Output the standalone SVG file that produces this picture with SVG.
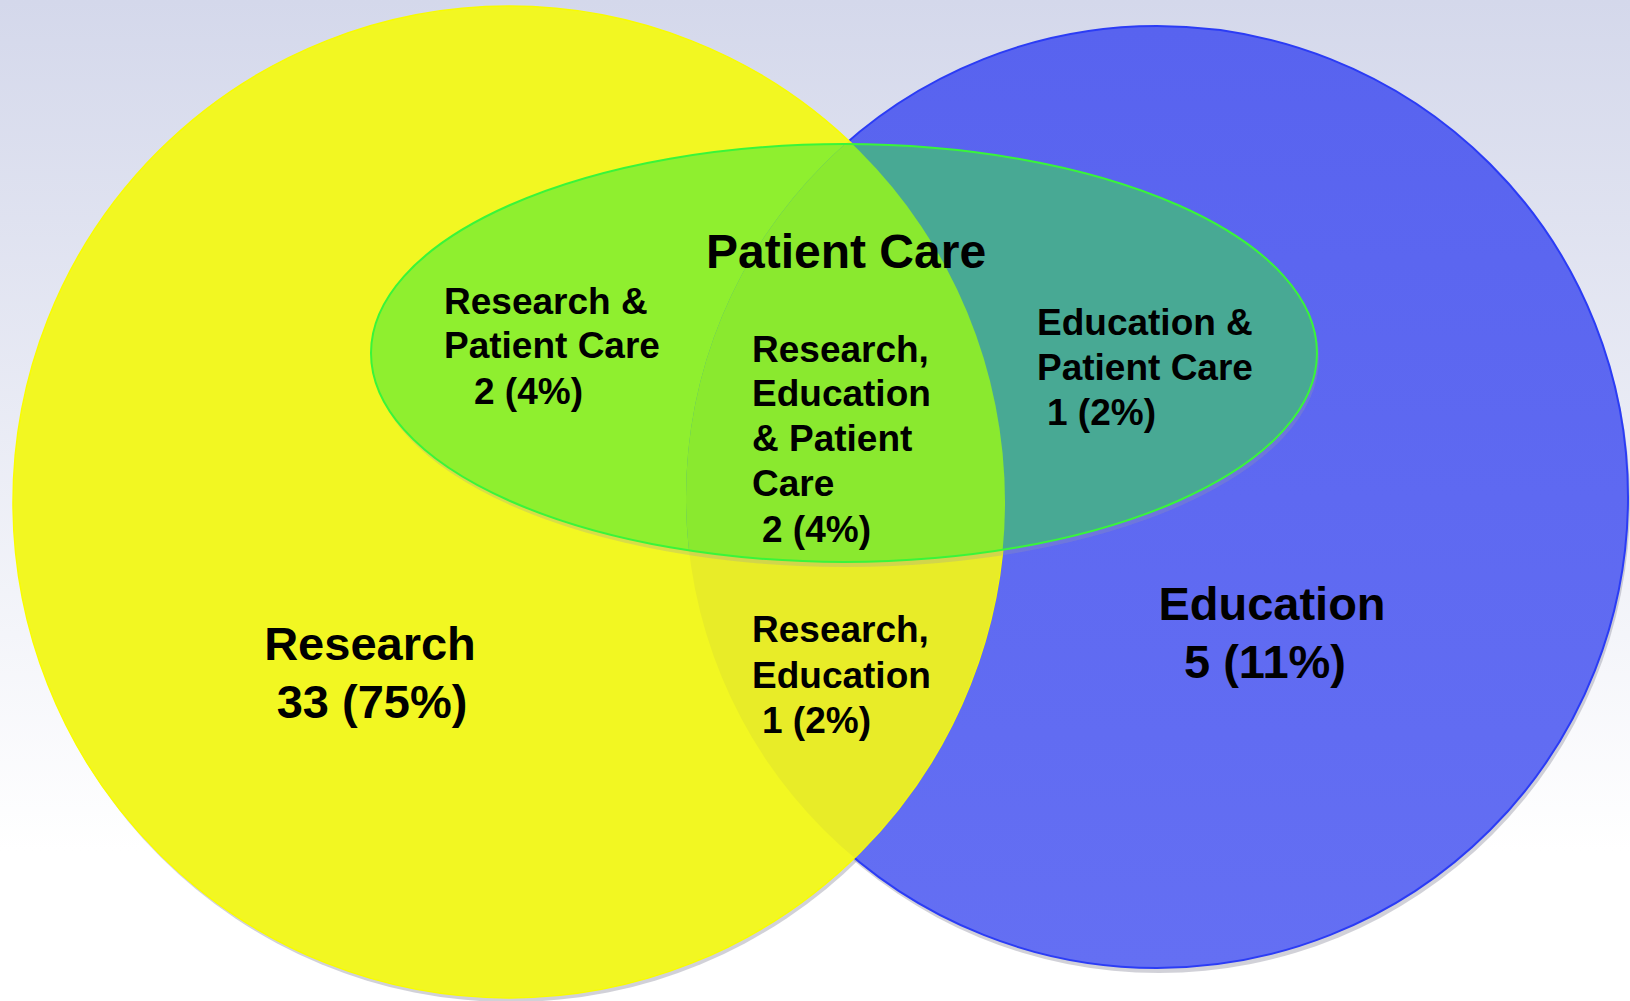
<svg xmlns="http://www.w3.org/2000/svg" width="1630" height="1001" viewBox="0 0 1630 1001">
<defs>
<linearGradient id="bg" x1="0" y1="0" x2="0" y2="1001" gradientUnits="userSpaceOnUse">
<stop offset="0" stop-color="#d4d8eb"/>
<stop offset="0.85" stop-color="#ffffff"/>
<stop offset="1" stop-color="#ffffff"/>
</linearGradient>
<linearGradient id="blueg" x1="0" y1="26" x2="0" y2="968" gradientUnits="userSpaceOnUse">
<stop offset="0" stop-color="#5863ef"/>
<stop offset="1" stop-color="#646ff3"/>
</linearGradient>
<clipPath id="cY"><circle cx="509" cy="502" r="496"/></clipPath>
<clipPath id="cB"><circle cx="1157" cy="497" r="471"/></clipPath>
<clipPath id="cE"><ellipse cx="844" cy="353" rx="473" ry="209"/></clipPath>
<style>
.t{font-family:"Liberation Sans",Arial,sans-serif;font-weight:bold;fill:#000}
.s{font-size:37px}
.b{font-size:47px}
.sh{fill:#9a9aa8}
</style>
</defs>
<rect x="0" y="0" width="1630" height="1001" fill="url(#bg)"/>
<circle class="sh" cx="511" cy="506" r="496" opacity="0.45"/>
<circle class="sh" cx="1159" cy="502" r="471" opacity="0.45"/>
<g id="education">
<circle cx="1157" cy="497" r="471" fill="url(#blueg)" stroke="#2b3cf5" stroke-width="2"/>
</g>
<g id="research">
<circle cx="509" cy="502" r="496" fill="#f2f722" stroke="#f8fc00" stroke-width="1.5"/>
<g clip-path="url(#cB)"><circle cx="509" cy="502" r="496" fill="#e8ec28"/></g>
</g>
<ellipse class="sh" cx="846" cy="358" rx="473" ry="209" opacity="0.28"/>
<g id="patient-care">
<ellipse cx="844" cy="353" rx="473" ry="209" fill="#8fef2f"/>
<g clip-path="url(#cE)">
<circle cx="1157" cy="497" r="471" fill="#48a994"/>
<g clip-path="url(#cB)"><circle cx="509" cy="502" r="496" fill="#8ae92f"/></g>
</g>
<ellipse cx="844" cy="353" rx="473" ry="209" fill="none" stroke="#39f53a" stroke-width="2"/>
</g>
<g id="labels">
<text class="t" x="706" y="268" font-size="48">Patient Care</text>
<g id="research-patient">
<text class="t s" x="444" y="314">Research &amp;</text>
<text class="t s" x="444" y="358">Patient Care</text>
<text class="t s" x="474" y="404">2 (4%)</text>
</g>
<g id="all-three">
<text class="t s" x="752" y="362">Research,</text>
<text class="t s" x="752" y="406">Education</text>
<text class="t s" x="752" y="451">&amp; Patient</text>
<text class="t s" x="752" y="496">Care</text>
<text class="t s" x="762" y="542">2 (4%)</text>
</g>
<g id="education-patient">
<text class="t s" x="1037" y="335">Education &amp;</text>
<text class="t s" x="1037" y="380">Patient Care</text>
<text class="t s" x="1047" y="425">1 (2%)</text>
</g>
<g id="research-education">
<text class="t s" x="752" y="642">Research,</text>
<text class="t s" x="752" y="688">Education</text>
<text class="t s" x="762" y="733">1 (2%)</text>
</g>
<g id="research-label">
<text class="t b" x="370" y="660" text-anchor="middle">Research</text>
<text class="t b" x="372" y="718" text-anchor="middle">33 (75%)</text>
</g>
<g id="education-label">
<text class="t b" x="1272" y="620" text-anchor="middle">Education</text>
<text class="t b" x="1265" y="678" text-anchor="middle">5 (11%)</text>
</g>
</g>
</svg>
